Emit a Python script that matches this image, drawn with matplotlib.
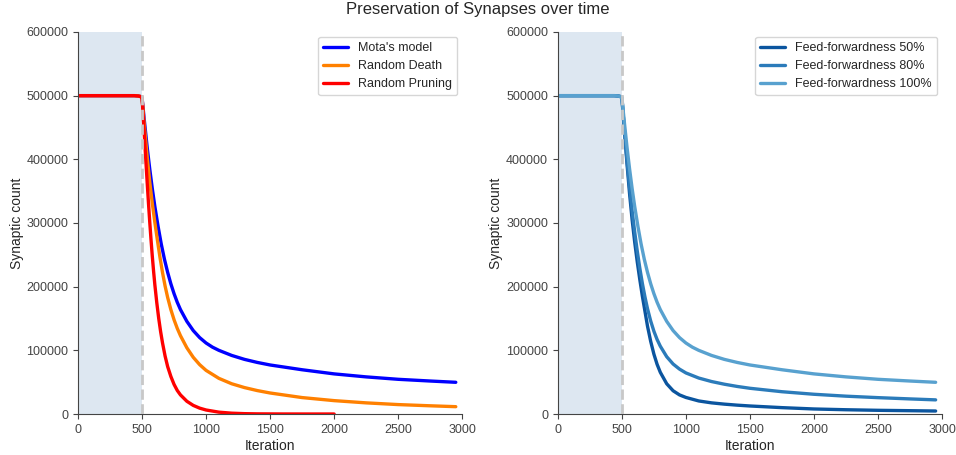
import matplotlib
matplotlib.use('Agg')
import matplotlib.pyplot as plt
import seaborn as sns

sns.set_style('ticks')
plt.rcParams['font.family'] = ['Liberation Sans', 'DejaVu Sans']
plt.rcParams['font.size'] = 9

# warm-up phase (no pruning until iteration 500)
it_warm = [0, 440, 470, 490]
warm = [500000, 500000, 499500, 498500]

# pruning phase, left panel
it_mota = [500, 520, 540, 560, 580, 600, 625, 650, 675, 700, 725, 750, 775, 800, 850,
           900, 950, 1000, 1050, 1100, 1200, 1300, 1400, 1500, 1750, 2000, 2250, 2500,
           2750, 2950]
mota = [497000, 457000, 419000, 385000, 354000, 326000, 295000, 267000, 243000, 222500,
        204500, 189000, 175500, 164000, 145500, 131000, 120000, 111500, 105000, 100000,
        92000, 85800, 81000, 77000, 69500, 63000, 58300, 54500, 51800, 49800]

it_death = [500, 520, 540, 560, 580, 600, 620, 640, 660, 680, 700, 725, 750, 775, 800,
            850, 900, 950, 1000, 1100, 1200, 1300, 1400, 1500, 1750, 2000, 2250, 2500,
            2750, 2950]
death = [497000, 448000, 404000, 365000, 331000, 301000, 273000, 246000, 222000, 201000,
         183000, 164000, 148000, 134500, 123000, 104000, 89000, 77500, 68500, 56000,
         47500, 41500, 36800, 33000, 25800, 21000, 17500, 14800, 12900, 11500]

it_prune = [500, 510, 520, 530, 540, 550, 560, 570, 580, 590, 600, 615, 630, 645, 660,
            680, 700, 725, 750, 775, 800, 850, 900, 950, 1000, 1100, 1200, 1300, 1400,
            1600, 1800, 2000]
prune = [497000, 465000, 431000, 397000, 364000, 332000, 302000, 274000, 248000, 224500,
         203000, 175000, 150500, 129500, 111500, 91000, 74500, 59000, 46500, 37000,
         30000, 20000, 13500, 9200, 6300, 2900, 1300, 550, 230, 50, 10, 0]

# pruning phase, right panel
it_ff50 = [500, 520, 540, 560, 580, 600, 620, 640, 660, 680, 700, 725, 750, 775, 800,
           850, 900, 950, 1000, 1100, 1200, 1300, 1400, 1500, 1750, 2000, 2250, 2500,
           2750, 2950]
ff50 = [497000, 444000, 393000, 346000, 305000, 270000, 239000, 211000, 185000, 161500,
        138000, 114000, 94000, 78000, 65500, 47500, 36500, 30000, 26000, 20500, 17500,
        15500, 13900, 12600, 10000, 7900, 6700, 5800, 5200, 4700]

it_ff80 = [500, 520, 540, 560, 580, 600, 620, 640, 660, 680, 700, 725, 750, 775, 800,
           850, 900, 950, 1000, 1100, 1200, 1300, 1400, 1500, 1750, 2000, 2250, 2500,
           2750, 2950]
ff80 = [497000, 445000, 398000, 356000, 319000, 286000, 256000, 229000, 205000, 184000,
        165500, 146000, 130000, 117000, 106500, 90000, 78500, 70500, 64500, 56500, 51000,
        46800, 43300, 40400, 35000, 31000, 28000, 25700, 23700, 22200]

it_ff100 = it_mota
ff100 = mota

fig, axes = plt.subplots(1, 2, figsize=(9.56, 4.55), dpi=100)
fig.subplots_adjust(left=0.0816, right=0.9854, bottom=0.0901, top=0.9297, wspace=0.249)

left_lines = [(it_mota, mota, "Mota's model", '#0000ff'),
              (it_death, death, 'Random Death', '#ff8000'),
              (it_prune, prune, 'Random Pruning', '#ff0000')]
right_lines = [(it_ff50, ff50, 'Feed-forwardness 50%', '#0b559f'),
               (it_ff80, ff80, 'Feed-forwardness 80%', '#2b7bba'),
               (it_ff100, ff100, 'Feed-forwardness 100%', '#58a1cf')]

for ax, lines in zip(axes, [left_lines, right_lines]):
    ax.axvspan(0, 500, color='#dde7f1', zorder=0, lw=0)
    for x, y, lab, c in lines:
        ax.plot(it_warm + x, warm + y, color=c, lw=2.4, label=lab)
    ax.axvline(500, color='#c8c8c8', ls='--', lw=2, zorder=3)
    ax.set_xlim(0, 3000)
    ax.set_ylim(0, 600000)
    ax.set_yticks(range(0, 600001, 100000))
    ax.ticklabel_format(axis='y', style='plain')
    ax.set_xlabel('Iteration', fontsize=10, labelpad=2)
    ax.set_ylabel('Synaptic count', fontsize=10, labelpad=2)
    ax.tick_params(labelsize=9, colors='#444444')
    for s in ['left', 'bottom']:
        ax.spines[s].set_color('#444444')
    ax.legend(loc='upper right', fontsize=9, frameon=True, borderaxespad=0.4)
    sns.despine(ax=ax)

fig.suptitle('Preservation of Synapses over time', fontsize=12, y=0.995)
fig.savefig('out.png', dpi=100)
